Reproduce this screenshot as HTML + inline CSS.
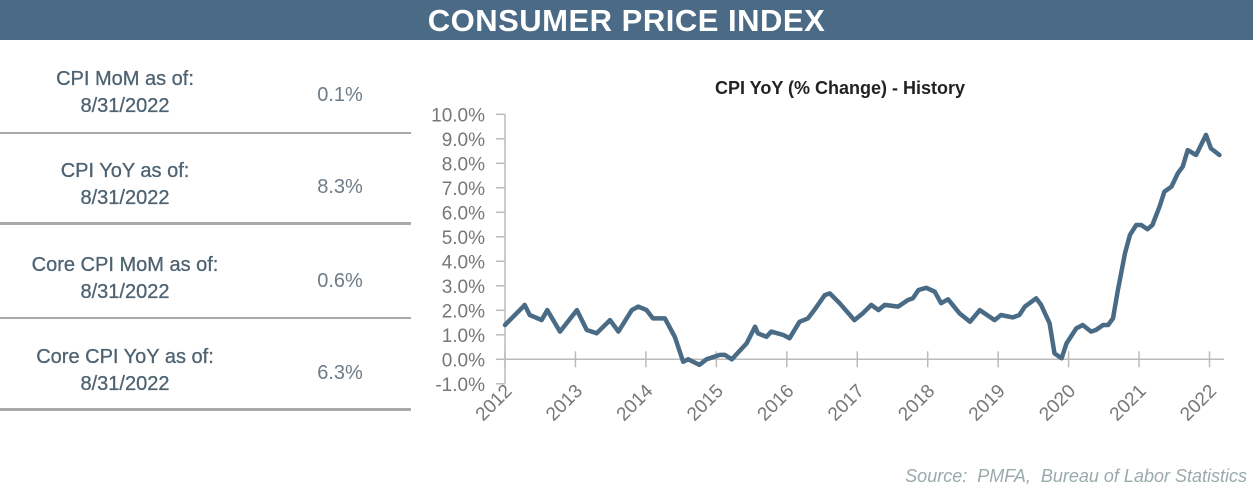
<!DOCTYPE html>
<html><head><meta charset="utf-8"><style>
body{margin:0;width:1253px;height:488px;background:#fff;font-family:"Liberation Sans",sans-serif;position:relative;overflow:hidden}
#hdr{position:absolute;left:0;top:0;width:1253px;height:40px;background:#4a6a86;color:#fff;font-size:31px;font-weight:bold;text-align:center;line-height:42px;letter-spacing:0.5px}
.lab{position:absolute;left:0;width:250px;text-align:center;color:#4e6372;font-size:20px;line-height:27px;-webkit-text-stroke:0.3px #4e6372}
.val{position:absolute;left:290px;width:100px;text-align:center;color:#6e7c88;font-size:20px}
.ln{position:absolute;left:0;width:411px;background:#aaa}
#src{position:absolute;right:6px;top:466px;font-style:italic;color:#9aa;font-size:18px}
</style></head><body>
<div id="hdr">CONSUMER PRICE INDEX</div>
<div class="lab" style="top:66px">CPI MoM as of:<br>8/31/2022</div>
<div class="val" style="top:84px">0.1%</div>
<div class="ln" style="top:132px;height:2px"></div>
<div class="lab" style="top:158px">CPI YoY as of:<br>8/31/2022</div>
<div class="val" style="top:176px">8.3%</div>
<div class="ln" style="top:222px;height:3px"></div>
<div class="lab" style="top:252px">Core CPI MoM as of:<br>8/31/2022</div>
<div class="val" style="top:270px">0.6%</div>
<div class="ln" style="top:317px;height:2px"></div>
<div class="lab" style="top:344px">Core CPI YoY as of:<br>8/31/2022</div>
<div class="val" style="top:362px">6.3%</div>
<div class="ln" style="top:408px;height:3px"></div>
<svg id="chart" width="1253" height="488" style="position:absolute;left:0;top:0"></svg>
<div id="src">Source:&nbsp; PMFA,&nbsp; Bureau of Labor Statistics</div>
<script>
const yearLabels=["2012","2013","2014","2015","2016","2017","2018","2019","2020","2021","2022"];
const yTicks=[-1,0,1,2,3,4,5,6,7,8,9,10];
const times=[0,.26,.28,.35,.52,.60,.78,1.02,1.16,1.30,1.49,1.61,1.80,1.89,2.01,2.10,2.27,2.41,2.53,2.60,2.76,2.86,3.05,3.12,3.22,3.43,3.55,3.59,3.71,3.78,3.95,4.04,4.18,4.30,4.39,4.54,4.61,4.75,4.96,5.08,5.20,5.30,5.39,5.58,5.72,5.79,5.87,5.98,6.10,6.19,6.29,6.45,6.60,6.74,6.95,7.04,7.21,7.30,7.38,7.54,7.61,7.73,7.80,7.90,7.97,8.11,8.20,8.32,8.39,8.49,8.56,8.63,8.70,8.80,8.87,8.96,9.03,9.12,9.19,9.29,9.36,9.46,9.55,9.62,9.69,9.81,9.95,10.02,10.14];
const cpiYoY=[1.40,2.15,2.22,1.81,1.60,2.01,1.13,2.01,1.20,1.06,1.60,1.13,2.01,2.15,2.01,1.67,1.67,0.92,-0.1,0,-0.23,0,0.18,0.18,0,0.65,1.33,1.06,0.92,1.13,0.99,0.86,1.53,1.67,2.01,2.62,2.69,2.29,1.60,1.88,2.22,2.01,2.22,2.15,2.42,2.49,2.83,2.92,2.76,2.29,2.45,1.88,1.53,2.01,1.60,1.81,1.71,1.81,2.15,2.49,2.22,1.47,0.24,0.04,0.65,1.26,1.40,1.13,1.20,1.40,1.40,1.67,2.83,4.33,5.07,5.48,5.48,5.31,5.48,6.23,6.84,7.05,7.59,7.86,8.54,8.34,9.16,8.61,8.34];
const NS="http://www.w3.org/2000/svg",svg=document.getElementById('chart');
const X0=505,XS=70.45,Y0=359.3,YS=24.5;
const xs=t=>X0+t*XS, ys=v=>Y0-v*YS;
function mk(tag,a,txt){const e=document.createElementNS(NS,tag);for(const k in a)e.setAttribute(k,a[k]);if(txt!==undefined)e.textContent=txt;svg.appendChild(e);return e;}
let e=mk('text',{x:840,y:94,'text-anchor':'middle','font-size':18,'font-weight':'bold',fill:'#222','font-family':'Liberation Sans'},'CPI YoY (% Change) - History');


e=mk('line',{x1:X0,y1:ys(10),x2:X0,y2:ys(-1),stroke:'#bbb','stroke-width':1.5});


e=mk('line',{x1:X0,y1:Y0,x2:1224,y2:Y0,stroke:'#bbb','stroke-width':1.5});


yTicks.forEach(v=>{
 mk('line',{x1:X0-9,y1:ys(v),x2:X0,y2:ys(v),stroke:'#bbb','stroke-width':1.5});
 e=mk('text',{x:X0-20,y:ys(v)+7,'text-anchor':'end','font-size':19,fill:'#777','font-family':'Liberation Sans'},v.toFixed(1)+'%');
 
 
});
yearLabels.forEach((l,i)=>{
 const x=xs(i);
 mk('line',{x1:x,y1:Y0-8,x2:x,y2:Y0+8,stroke:'#bbb','stroke-width':1.5});
 e=mk('text',{x:x+8,y:392,'text-anchor':'end','font-size':19,fill:'#777','font-family':'Liberation Sans',transform:`rotate(-45 ${x+8} 392)`},l);
 
 
});
e=mk('polyline',{points:times.map((t,i)=>xs(t).toFixed(1)+','+ys(cpiYoY[i]).toFixed(1)).join(' '),fill:'none',stroke:'#4a6b85','stroke-width':4.5,'stroke-linejoin':'round','stroke-linecap':'round'});


</script>
</body></html>
